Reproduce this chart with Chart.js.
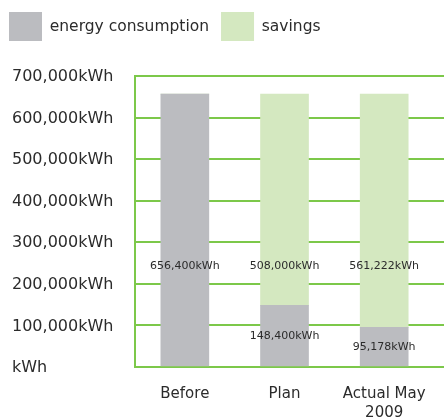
<!DOCTYPE html>
<html>
<head>
<meta charset="utf-8">
<script src="https://cdn.jsdelivr.net/npm/chart.js@4/dist/chart.umd.min.js"></script>
<style>
  html, body { margin: 0; padding: 0; background: #fff; overflow: hidden; }
  #wrap { width: 444px; height: 419px; position: relative; }
</style>
</head>
<body>
<div id="wrap"><canvas id="energyChart"></canvas></div>
<script>
// --- datos ---
const categorias = ["Before", "Plan", ["Actual May", "2009"]];
const consumo = [656400, 148400, 95178];
const ahorro = [0, 508000, 561222];
const yTicks = [0, 100000, 200000, 300000, 400000, 500000, 600000, 700000];
const labelTope = 242000; // altura maxima de las etiquetas dentro de barras

const verde = "#7cc84a";
const texto = "#2b2b2b";

const fmt = (v) => v === 0 ? "kWh" : v.toLocaleString("en-US") + "kWh";

// etiquetas de valor dentro de cada segmento
const etiquetasBarras = {
  id: "etiquetasBarras",
  afterDatasetsDraw(chart) {
    const ctx = chart.ctx;
    const y = chart.scales.y;
    ctx.save();
    ctx.font = "11px 'DejaVu Sans'";
    ctx.fillStyle = texto;
    ctx.textAlign = "center";
    ctx.textBaseline = "middle";
    chart.data.datasets.forEach((ds, di) => {
      const meta = chart.getDatasetMeta(di);
      meta.data.forEach((bar, i) => {
        const v = ds.data[i].y;
        if (!v) return;
        const base = di === 0 ? 0 : chart.data.datasets[0].data[i].y;
        const medio = Math.min(base + v / 2, labelTope);
        ctx.fillText(fmt(v), bar.x, y.getPixelForValue(medio));
      });
    });
    ctx.restore();
  }
};

// mover la leyenda un poco a la izquierda
const leyendaIzq = {
  id: "leyendaIzq",
  afterLayout(chart) { if (chart.legend) chart.legend.left = -3; }
};

new Chart(document.getElementById("energyChart"), {
  type: "bar",
  data: {
    datasets: [
      { label: "energy consumption", data: consumo.map((v, i) => ({ x: i, y: v })), backgroundColor: "#bbbcc0" },
      { label: "savings", data: ahorro.map((v, i) => ({ x: i, y: v })), backgroundColor: "#d4e8c0" }
    ]
  },
  options: {
    responsive: true,
    maintainAspectRatio: false,
    animation: false,
    layout: { padding: { left: 12, right: 0, top: 0, bottom: 0 } },
    barThickness: 48,
    plugins: {
      tooltip: { enabled: false },
      legend: {
        position: "top",
        align: "start",
        labels: {
          boxWidth: 33, boxHeight: 29, padding: 12,
          color: texto,
          font: { family: "'DejaVu Sans'", size: 15.5 }
        }
      },
      title: {
        display: true, text: "", weight: 500,
        font: { size: 1, lineHeight: 1 },
        padding: { top: 24, bottom: 0 }
      }
    },
    scales: {
      x: {
        type: "linear",
        stacked: true,
        offset: false,
        min: -0.5,
        max: 2.6,
        afterBuildTicks: (s) => { s.ticks = categorias.map((c, i) => ({ value: i })); },
        afterFit: (s) => { s.height = 52; },
        grid: { display: false, offset: false },
        border: { display: true, color: verde, width: 2 },
        ticks: {
          padding: 10,
          color: texto,
          font: { family: "'DejaVu Sans'", size: 15, lineHeight: 1.25 },
          callback: (v) => categorias[v]
        }
      },
      y: {
        stacked: true,
        min: 0,
        max: 700000,
        afterBuildTicks: (s) => { s.ticks = yTicks.map(v => ({ value: v })); },
        afterFit: (s) => { s.width = 123; },
        grid: { color: verde, lineWidth: 2, drawTicks: false },
        border: { display: true, color: verde, width: 2 },
        ticks: {
          crossAlign: "far",
          labelOffset: 1,
          color: texto,
          font: { family: "'DejaVu Sans'", size: 16 },
          callback: (v) => fmt(v)
        }
      }
    }
  },
  plugins: [etiquetasBarras, leyendaIzq]
});
</script>
</body>
</html>
